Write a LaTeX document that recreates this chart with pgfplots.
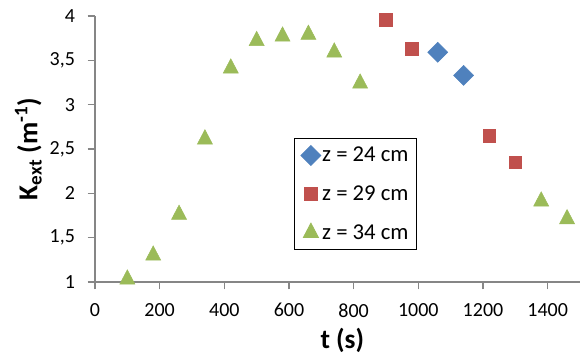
\documentclass[border=0pt]{standalone}
\usepackage{pgfplots}
\pgfplotsset{compat=1.18}
\usepackage{fontspec}
\setmainfont{Carlito}
\definecolor{cblue}{HTML}{4F81BD}
\definecolor{cred}{HTML}{C0504D}
\definecolor{cgreen}{HTML}{9BBB59}
\definecolor{axgray}{HTML}{868686}
\begin{document}
\begin{tikzpicture}
\begin{axis}[
  scale only axis,
  width=363.75pt, height=199.5pt,
  xmin=0, xmax=1500, ymin=1, ymax=4,
  xtick={0,200,...,1400},
  ytick={1,1.5,...,4},
  axis x line*=bottom, axis y line*=left,
  axis line style={axgray, line width=0.8pt, -},
  tick style={axgray, line width=0.8pt},
  tick align=outside,
  major tick length=5.5pt,
  /pgf/number format/assume math mode=true,
  /pgf/number format/use comma,
  /pgf/number format/1000 sep={},
  ticklabel style={font=\fontsize{15}{17}\selectfont, text=black},
  xticklabel style={yshift=-7pt},
  yticklabel style={xshift=-6pt},
  xlabel={t (s)},
  ylabel={K\textsubscript{ext} (m\textsuperscript{-1})},
  label style={font=\bfseries\fontsize{20.5}{22}\selectfont},
  xlabel style={at={(axis description cs:0.51,-0.218)}, anchor=center},
  ylabel style={at={(axis description cs:-0.1375,0.5)}, anchor=center},
  legend image code/.code={\draw[#1] plot coordinates {(0pt,0pt)};},
  legend style={at={(0.41,0.541)}, anchor=north west, draw=black, line width=0.6pt,
    font=\fontsize{17}{19}\selectfont, row sep=12.4pt, inner xsep=5pt, inner ysep=4.5pt,
    nodes={inner xsep=1pt}},
  legend cell align=left,
  clip=false,
]
\addplot[only marks, mark=square*, mark size=5.3pt, mark options={rotate=45, fill=cblue, draw=cblue}]
  coordinates {(1060,3.59) (1140,3.33)};
\addlegendentry{z = 24 cm}
\addplot[only marks, mark=square*, mark size=4.7pt, mark options={fill=cred, draw=cred}]
  coordinates {(900,3.96) (980,3.63) (1220,2.65) (1300,2.35)};
\addlegendentry{z = 29 cm}
\addplot[only marks, mark=triangle*, mark size=6.5pt, mark options={fill=cgreen, draw=cgreen, yscale=1.1}]
  coordinates {(100,1.03) (180,1.30) (260,1.76) (340,2.61) (420,3.41) (500,3.72) (580,3.77) (660,3.79) (740,3.59) (820,3.24) (1380,1.91) (1460,1.71)};
\addlegendentry{z = 34 cm}
\end{axis}
\path (-71.25pt,-60.75pt) rectangle (366pt,211.5pt);
\end{tikzpicture}
\end{document}
